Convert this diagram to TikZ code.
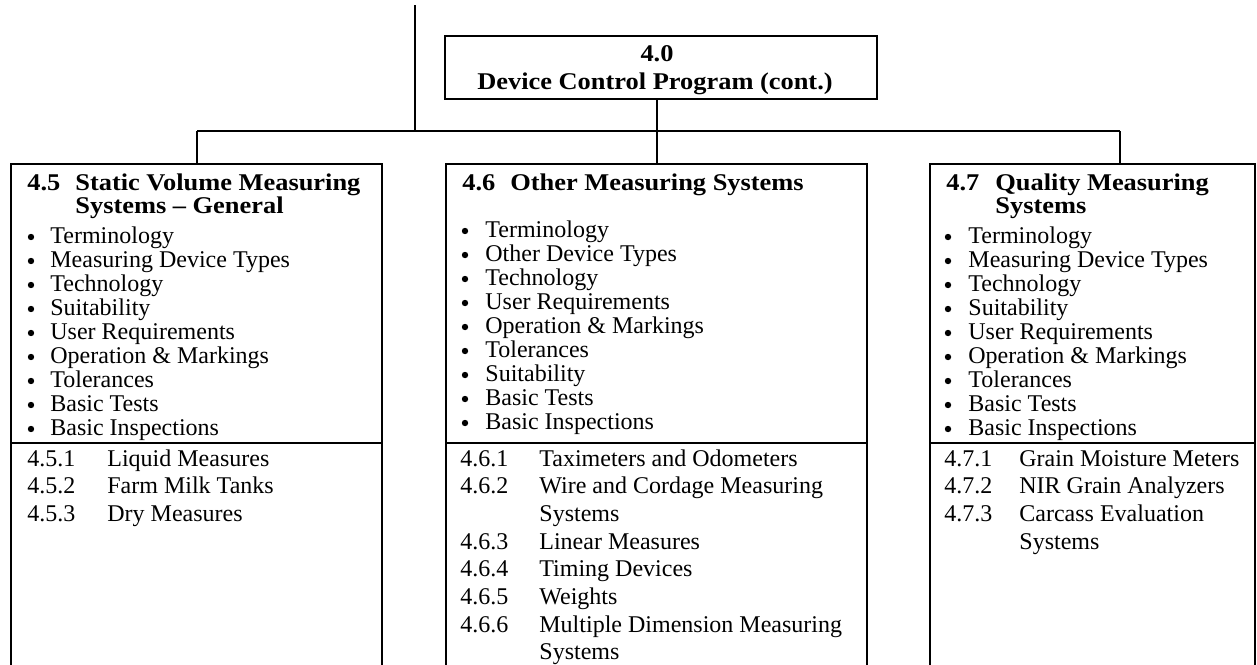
\documentclass[tikz,border=0pt]{standalone}
\usepackage{fontspec}
\setmainfont{Liberation Serif}
\newfontfamily\hdfont{Liberation Serif}[FakeStretch=1.1,Ligatures=TeX]
\begin{document}
\begin{tikzpicture}[x=0.5pt,y=-0.5pt,
  box/.style={draw, line width=1.3pt, inner sep=0pt, outer sep=0pt},
  conn/.style={line width=1pt},
  divline/.style={line width=1.3pt},
  txt/.style={anchor=base west, inner sep=0pt, font=\fontsize{12}{13.8}\selectfont},
  dot/.style={circle, fill, inner sep=0pt, minimum size=3.2pt},
  hd/.style={anchor=base west, inner sep=0pt, font=\hdfont\bfseries\fontsize{12}{13.8}\selectfont},
  hdc/.style={anchor=base, inner sep=0pt, font=\hdfont\bfseries\fontsize{12}{13.8}\selectfont}]
\useasboundingbox (0,0) rectangle (1257,664);
\clip (0,0) rectangle (1257,664);

% boxes
\node[box, minimum width=216pt, minimum height=31.5pt] (top) at (661,67.5) {};
\node[box, minimum width=185.5pt, minimum height=258pt] (b45) at (196.5,422) {};
\node[box, minimum width=210.5pt, minimum height=258pt] (b46) at (656.5,422) {};
\node[box, minimum width=162.5pt, minimum height=258pt] (b47) at (1092.5,422) {};

% dividers
\draw[divline] (b45.west |- 0,443) -- (b45.east |- 0,443);
\draw[divline] (b46.west |- 0,443) -- (b46.east |- 0,443);
\draw[divline] (b47.west |- 0,443) -- (b47.east |- 0,443);

% connectors
\coordinate (stub) at (415,5);
\coordinate (busL) at (197,131);
\coordinate (busR) at (1120,131);
\draw[conn] (stub) -- (stub |- busL);
\draw[conn] (busL) -- (busR);
\draw[conn] (busL) -- (busL |- b45.north);
\draw[conn] (b46.north |- top.south) -- (b46.north);
\draw[conn] (busR) -- (busR |- b47.north);

% top box text
\node[hdc] (t40) at (657,61) {4.0};
\node[hdc] (tdcp) at (655,89) {Device Control Program (cont.)};

% 4.5
\node[hd] (h45n) at (27,190) {4.5};
\node[hd] (h45a) at (75,190) {Static Volume Measuring};
\node[hd] (h45b) at (75,213) {Systems – General};
\foreach \t [count=\i from 0] in {Terminology,Measuring Device Types,Technology,Suitability,User Requirements,Operation \& Markings,Tolerances,Basic Tests,Basic Inspections}{
  \node[dot] (d45-\i) at (31,243+24*\i-6) {};
  \node[txt] (l45-\i) at (50,243+24*\i) {\t};
}
\foreach \n/\t [count=\i from 0] in {4.5.1/Liquid Measures,4.5.2/Farm Milk Tanks,4.5.3/Dry Measures}{
  \node[txt] (n45-\i) at (27,466+27.7*\i) {\n};
  \node[txt] (s45-\i) at (107,466+27.7*\i) {\t};
}

% 4.6
\node[hd] (h46n) at (462,190) {4.6};
\node[hd] (h46a) at (510,190) {Other Measuring Systems};
\foreach \t [count=\i from 0] in {Terminology,Other Device Types,Technology,User Requirements,Operation \& Markings,Tolerances,Suitability,Basic Tests,Basic Inspections}{
  \node[dot] (d46-\i) at (465,237+24*\i-6) {};
  \node[txt] (l46-\i) at (485,237+24*\i) {\t};
}
\foreach \n/\t [count=\i from 0] in {4.6.1/Taximeters and Odometers,4.6.2/Wire and Cordage Measuring,/Systems,4.6.3/Linear Measures,4.6.4/Timing Devices,4.6.5/Weights,4.6.6/Multiple Dimension Measuring,/Systems}{
  \node[txt] (n46-\i) at (460,466+27.7*\i) {\n};
  \node[txt] (s46-\i) at (539,466+27.7*\i) {\t};
}

% 4.7
\node[hd] (h47n) at (946,190) {4.7};
\node[hd] (h47a) at (995,190) {Quality Measuring};
\node[hd] (h47b) at (995,213) {Systems};
\foreach \t [count=\i from 0] in {Terminology,Measuring Device Types,Technology,Suitability,User Requirements,Operation \& Markings,Tolerances,Basic Tests,Basic Inspections}{
  \node[dot] (d47-\i) at (948,243+24*\i-6) {};
  \node[txt] (l47-\i) at (968,243+24*\i) {\t};
}
\foreach \n/\t [count=\i from 0] in {4.7.1/Grain Moisture Meters,4.7.2/NIR Grain Analyzers,4.7.3/Carcass Evaluation,/Systems}{
  \node[txt] (n47-\i) at (944,466+27.7*\i) {\n};
  \node[txt] (s47-\i) at (1019,466+27.7*\i) {\t};
}
\end{tikzpicture}
\end{document}
